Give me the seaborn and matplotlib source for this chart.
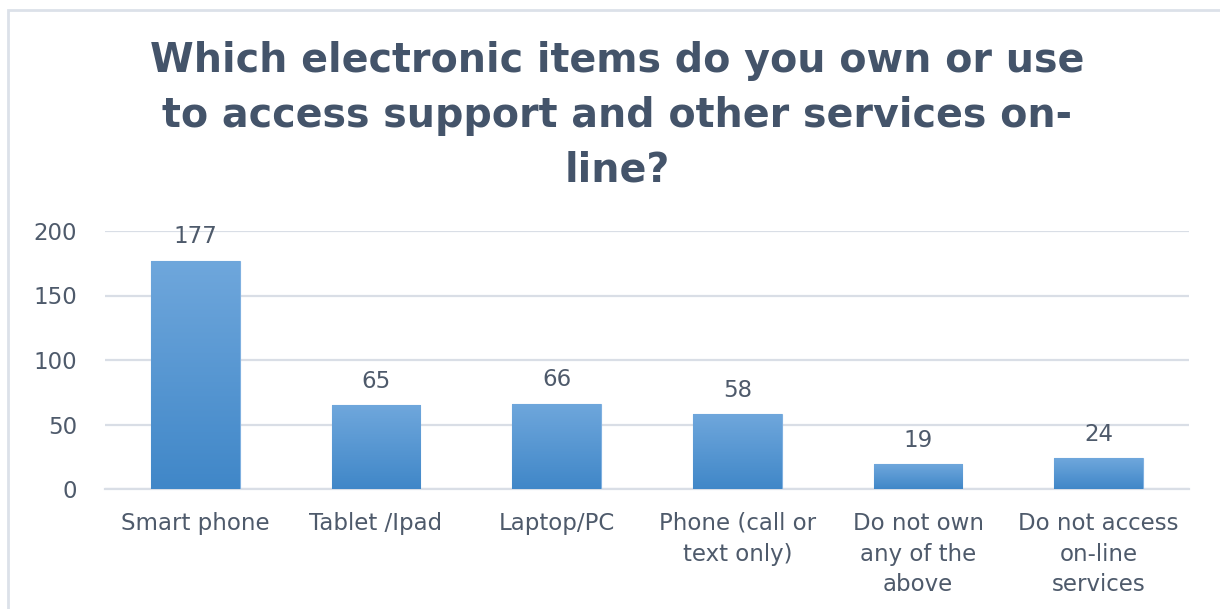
import numpy as np
import pandas as pd
import matplotlib
matplotlib.use("Agg")
import matplotlib.pyplot as plt
from matplotlib.patches import Rectangle
from matplotlib.colors import LinearSegmentedColormap
import seaborn as sns

# Survey responses
categories = [
    "Smart phone",
    "Tablet /Ipad",
    "Laptop/PC",
    "Phone (call or\ntext only)",
    "Do not own\nany of the\nabove",
    "Do not access\non-line\nservices",
]
counts = [177, 65, 66, 58, 19, 24]
y_ticks = [0, 50, 100, 150, 200]
title = "Which electronic items do you own or use\nto access support and other services on-\nline?"

df = pd.DataFrame({"item": categories, "count": counts})

sns.set_theme(style="white")
plt.rcParams["font.family"] = ["DejaVu Sans"]

text_color = "#4E5A6B"
grid_color = "#D9DEE6"
label_size = 16.5

fig = plt.figure(figsize=(12.2, 6.09), dpi=100)
ax = fig.add_axes([105 / 1220, 120 / 609, 1084 / 1220, 258 / 609])

sns.barplot(data=df, x="item", y="count", color="#5B9BD5", width=0.49,
            saturation=1, ax=ax, zorder=3)

ax.set_ylim(0, 200)
ax.set_xlim(-0.5, len(categories) - 0.5)
ax.set_yticks(y_ticks)
ax.set_xlabel("")
ax.set_ylabel("")
ax.grid(axis="y", color=grid_color, linewidth=1.6, zorder=0)
ax.grid(axis="x", visible=False)
for side in ["top", "right", "left"]:
    ax.spines[side].set_visible(False)
ax.spines["bottom"].set_color(grid_color)
ax.spines["bottom"].set_linewidth(1.6)
ax.tick_params(axis="y", length=0, pad=20, labelsize=label_size, labelcolor=text_color)
ax.tick_params(axis="x", length=0, pad=16.5, labelsize=label_size, labelcolor=text_color)
for lbl in ax.get_xticklabels():
    lbl.set_linespacing(1.43)

# Vertical gradient fill for each bar, clipped to the bar shape
grad = LinearSegmentedColormap.from_list("bar", ["#4087C8", "#6FA7DC"])
gradient = np.linspace(0, 1, 256).reshape(-1, 1)
for patch, val in zip(ax.patches, counts):
    x0, y0 = patch.get_x(), patch.get_y()
    w, h = patch.get_width(), patch.get_height()
    patch.set_facecolor("none")
    patch.set_edgecolor("#7FB0E0")
    patch.set_linewidth(0.8)
    img = ax.imshow(gradient, cmap=grad, origin="lower", aspect="auto",
                    extent=[x0, x0 + w, y0, y0 + h], zorder=3)
    img.set_clip_path(patch)
    ax.annotate(f"{val}", (x0 + w / 2, y0 + h), xytext=(0, 9),
                textcoords="offset points", ha="center", va="bottom",
                fontsize=label_size, color=text_color, annotation_clip=False)

ax.set_xlim(-0.5, len(categories) - 0.5)
ax.set_ylim(0, 200)

fig.text(617 / 1220, 1 - 116 / 609, title, ha="center", va="center",
         fontsize=28.5, fontweight="bold", color="#44546A", linespacing=1.47)

# Chart frame
fig.add_artist(Rectangle((8 / 1220, -0.05), 1.1, 0.05 + (609 - 10) / 609,
                         transform=fig.transFigure, fill=False,
                         edgecolor="#DCE1E9", linewidth=2))

fig.savefig("out.png", dpi=100, facecolor="white")
